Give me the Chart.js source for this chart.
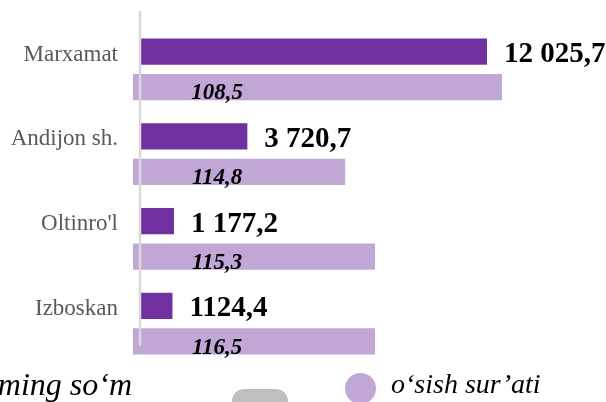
<!DOCTYPE html>
<html>
<head>
<meta charset="utf-8">
<script src="https://cdn.jsdelivr.net/npm/chart.js@4.4.1/dist/chart.umd.min.js"></script>
<style>
  html, body { margin: 0; padding: 0; background: #fff; overflow: hidden; }
  .wrap { position: relative; width: 606px; height: 402px; }
  canvas { position: absolute; left: 0; top: 0; }
  .leg { position: absolute; font-family: "Liberation Serif", serif; font-style: italic; color: #000; white-space: nowrap; }
  .leg-left { right: 474px; top: 366px; font-size: 32px; }
  .leg-right { left: 391px; top: 368px; font-size: 28px; }
  .dot { position: absolute; left: 345px; top: 373px; width: 31px; height: 31px; border-radius: 50%; background: #c0a7d6; }
  .knob { position: absolute; left: 232px; top: 389px; width: 56px; height: 30px; border-radius: 12px 12px 0 0; background: #bfbfbf; }
</style>
</head>
<body>
<div class="wrap">
  <canvas id="chart" width="606" height="402"></canvas>
  <span class="leg leg-left">ming so‘m</span>
  <div class="knob"></div>
  <div class="dot"></div>
  <span class="leg leg-right">o‘sish sur’ati</span>
</div>
<script>
// Data
const tumanlar = ['Marxamat', 'Andijon sh.', "Oltinro'l", 'Izboskan'];
const summa = [12025.7, 3720.7, 1177.2, 1124.4];
const summaText = ['12 025,7', '3 720,7', '1 177,2', '1124,4'];
const osish = [108.5, 114.8, 115.3, 116.5];
const osishBar = [100, 57.5, 65.6, 65.6];

const darkPurple = '#7030a0';
const lightPurple = '#c0a7d6';

// Grey zero line over the bars
const zeroLine = {
  id: 'zeroLine',
  afterDatasetsDraw(chart) {
    const { ctx, chartArea } = chart;
    const x = chart.scales.x.getPixelForValue(0);
    ctx.save();
    ctx.strokeStyle = '#d9d9d9';
    ctx.lineWidth = 2.5;
    ctx.beginPath();
    ctx.moveTo(x, chartArea.top - 16);
    ctx.lineTo(x, chartArea.bottom - 20);
    ctx.stroke();
    ctx.restore();
  }
};

// Category names and value labels
const barLabels = {
  id: 'barLabels',
  afterDraw(chart) {
    const { ctx } = chart;
    const dark = chart.getDatasetMeta(0).data;
    const light = chart.getDatasetMeta(1).data;
    const x2 = chart.scales.x2;
    ctx.save();
    dark.forEach((bar, i) => {
      ctx.textBaseline = 'middle';
      ctx.textAlign = 'right';
      ctx.fillStyle = '#595959';
      ctx.font = '23px "Liberation Serif"';
      ctx.fillText(tumanlar[i], bar.base - 22, bar.y + 3);

      ctx.textAlign = 'left';
      ctx.fillStyle = '#000';
      ctx.font = 'bold 29px "Liberation Serif"';
      ctx.fillText(summaText[i], bar.x + 17, bar.y + 3);
    });
    light.forEach((bar, i) => {
      ctx.textAlign = 'center';
      ctx.textBaseline = 'alphabetic';
      ctx.fillStyle = '#000';
      ctx.font = 'italic bold 23px "Liberation Serif"';
      ctx.fillText(osish[i].toFixed(1).replace('.', ','), x2.getPixelForValue(22.8), bar.y + bar.height / 2 - 1);
    });
    ctx.restore();
  }
};

new Chart(document.getElementById('chart'), {
  type: 'bar',
  data: {
    labels: tumanlar,
    datasets: [
      { label: 'ming so‘m', data: summa, backgroundColor: darkPurple, xAxisID: 'x', barPercentage: 0.74, categoryPercentage: 0.84 },
      { label: 'o‘sish sur’ati', data: osishBar, backgroundColor: lightPurple, xAxisID: 'x2', barPercentage: 0.74, categoryPercentage: 0.84 }
    ]
  },
  options: {
    indexAxis: 'y',
    responsive: false,
    animation: false,
    layout: { padding: { left: 133, right: 0, top: 27, bottom: 36 } },
    scales: {
      x: { display: false, min: -243, max: 16150 },
      x2: { display: false, min: 0, max: 128.2 },
      y: { display: false }
    },
    plugins: { legend: { display: false }, tooltip: { enabled: false } }
  },
  plugins: [zeroLine, barLabels]
});
</script>
</body>
</html>
